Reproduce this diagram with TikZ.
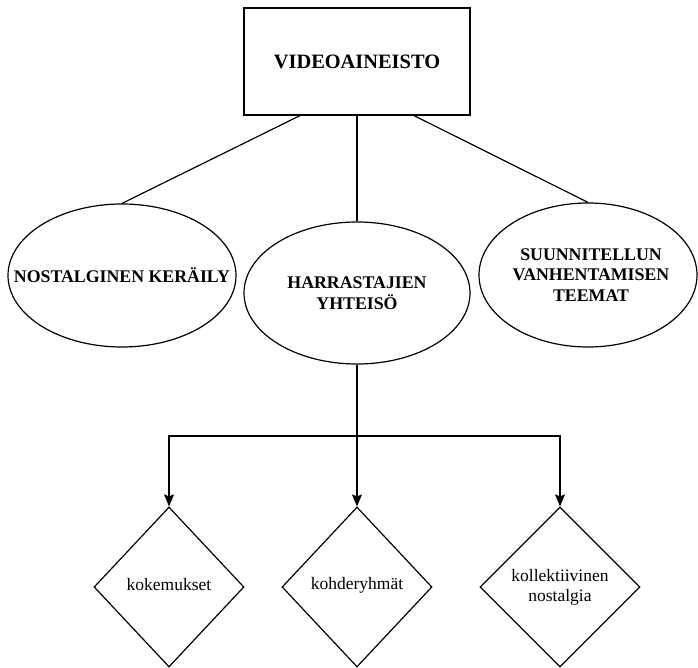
\documentclass[tikz,border=0pt]{standalone}
\usepackage{fontspec}
\setmainfont{Liberation Serif}
\usetikzlibrary{shapes.geometric,arrows.meta}
\tikzset{
  ln/.style={line width=1.2pt, draw=black},
  topbox/.style={ln, rectangle, minimum width=226pt, minimum height=107pt, inner sep=0pt,
     font=\fontsize{20.4}{24}\selectfont\bfseries},
  ell/.style={ln, ellipse, inner sep=0pt},
  elltext/.style={align=center, inner sep=0pt,
     font=\fontsize{17.8}{20.5}\selectfont\bfseries},
  dia/.style={ln, diamond, inner sep=0pt, minimum height=160pt},
  diatext/.style={align=center, inner sep=0pt,
     font=\fontsize{17.5}{20}\selectfont},
  arr/.style={ln, -{Stealth[length=12pt,width=10pt,inset=2pt]}}
}
\begin{document}
\begin{tikzpicture}[x=1pt,y=-1pt]
\useasboundingbox (0,0) rectangle (698,668);
\node[topbox] (top) at (357,61.5) {VIDEOAINEISTO};
\node[ell, minimum width=228pt, minimum height=143pt] (lell) at (122,275.5) {};
\node[ell, minimum width=226pt, minimum height=142pt] (mell) at (357,293) {};
\node[ell, minimum width=218pt, minimum height=144pt] (rell) at (588,275) {};
\node[elltext] (ltext) at (lell.center) {NOSTALGINEN KERÄILY};
\node[elltext] (mtext) at (mell.center) {HARRASTAJIEN\\YHTEISÖ};
\node[elltext] (rtext) at ([xshift=3pt]rell.center) {SUUNNITELLUN\\VANHENTAMISEN\\TEEMAT};
\node[dia, minimum width=150pt] (d1) at (169,587) {};
\node[dia, minimum width=150pt] (d2) at (357,587) {};
\node[dia, minimum width=160pt] (d3) at (560,587) {};
\node[diatext] (t1) at ([yshift=2pt]d1.center) {kokemukset};
\node[diatext] (t2) at ([yshift=2pt]d2.center) {kohderyhmät};
\node[diatext] (t3) at (d3.center) {kollektiivinen\\nostalgia};
\draw[ln] ([xshift=-57pt]top.south) -- (lell.north);
\draw[ln] (top.south) -- (mell.north);
\draw[ln] ([xshift=57pt]top.south) -- (rell.north);
\coordinate (j) at (357,436);
\draw[ln] (mell.south) -- (j);
\draw[arr] (j) -| (d1.north);
\draw[arr] (j) -- (d2.north);
\draw[arr] (j) -| (d3.north);
\end{tikzpicture}
\end{document}
